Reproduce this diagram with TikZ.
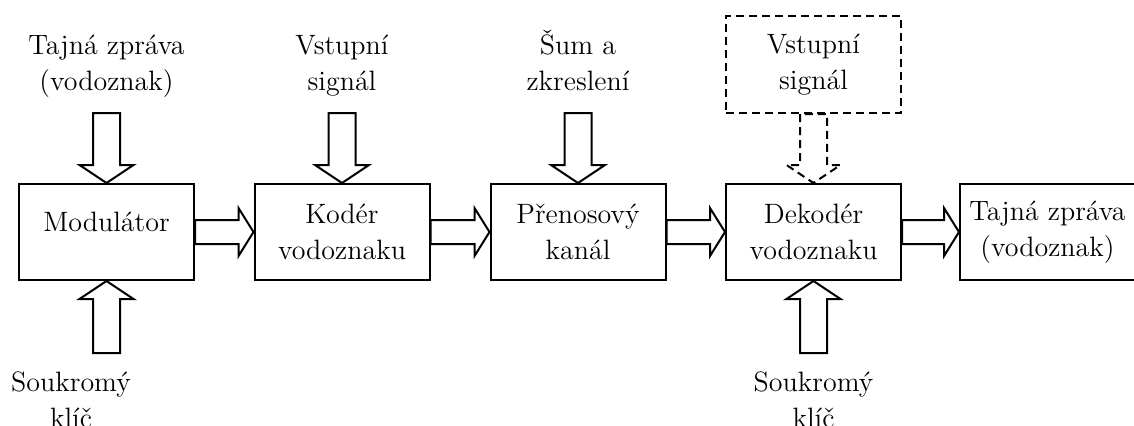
\documentclass[tikz,border=0pt]{standalone}
\usetikzlibrary{calc}
\newcommand\hfat[2]{\path[fat] let \p1=(#1.east), \p2=(#2.west) in
  (\x1,\y1-6pt) -- (\x2-7.5pt,\y1-6pt) -- (\x2-7.5pt,\y1-12pt) -- (\x2,\y1)
  -- (\x2-7.5pt,\y1+12pt) -- (\x2-7.5pt,\y1+6pt) -- (\x1,\y1+6pt) -- cycle;}
\newcommand\vfat[4]{\path[fat,#1] let \p1=(#2), \p2=(#3) in
  (\x2-6.75pt,\y1) -- (\x2-6.75pt,\y2+#4) -- (\x2-13.5pt,\y2+#4) -- (\x2,\y2)
  -- (\x2+13.5pt,\y2+#4) -- (\x2+6.75pt,\y2+#4) -- (\x2+6.75pt,\y1) -- cycle;}
\begin{document}
\begin{tikzpicture}[x=0.5pt,y=-0.5pt,
  txt/.style={font=\fontsize{14}{18}\selectfont, align=center, inner sep=0pt},
  box/.style={txt, draw, line width=1pt, minimum width=87.5pt, minimum height=48pt},
  dbox/.style={box, dash pattern=on 4pt off 2.5pt, minimum height=48.5pt},
  fat/.style={draw, line width=1pt, fill=white, line join=miter},
  dfat/.style={dash pattern=on 4pt off 2.5pt}]
\useasboundingbox (0,0) rectangle (1134,425);
\clip (0,0) rectangle (1134,425);
\node[box, text depth=10pt] (mod) at (106.5,232) {Modulátor};
\node[box] (kod) at (342,232) {Kodér\\vodoznaku};
\node[box] (pren) at (578,232) {Přenosový\\kanál};
\node[box] (dek) at (813.5,232) {Dekodér\\vodoznaku};
\node[box] (out) at (1047.5,232) {Tajná zpráva\\(vodoznak)};
\node[dbox] (vin2) at (813.5,64.5) {Vstupní\\signál};
\node[txt, anchor=base] (tz) at (106.5,90) {Tajná zpráva\\(vodoznak)};
\node[txt, anchor=base] (vin) at (342,90) {Vstupní\\signál};
\node[txt, anchor=base] (sum) at (578,90) {Šum a\\zkreslení};
\node[txt, anchor=base] (sk1) at (71,427) {Soukromý\\klíč};
\node[txt, anchor=base] (sk2) at (813.5,427) {Soukromý\\klíč};
\coordinate (a1) at (106.5,113);
\coordinate (a2) at (342,113);
\coordinate (a3) at (578,113);
\coordinate (b1) at (106.5,353);
\coordinate (b2) at (813.5,353);
\hfat{mod}{kod}
\hfat{kod}{pren}
\hfat{pren}{dek}
\hfat{dek}{out}
\vfat{}{a1}{mod.north}{9pt}
\vfat{}{a2}{kod.north}{9pt}
\vfat{}{a3}{pren.north}{9pt}
\vfat{dfat}{vin2.south}{dek.north}{9pt}
\vfat{}{b1}{mod.south}{-9pt}
\vfat{}{b2}{dek.south}{-9pt}
\end{tikzpicture}
\end{document}
